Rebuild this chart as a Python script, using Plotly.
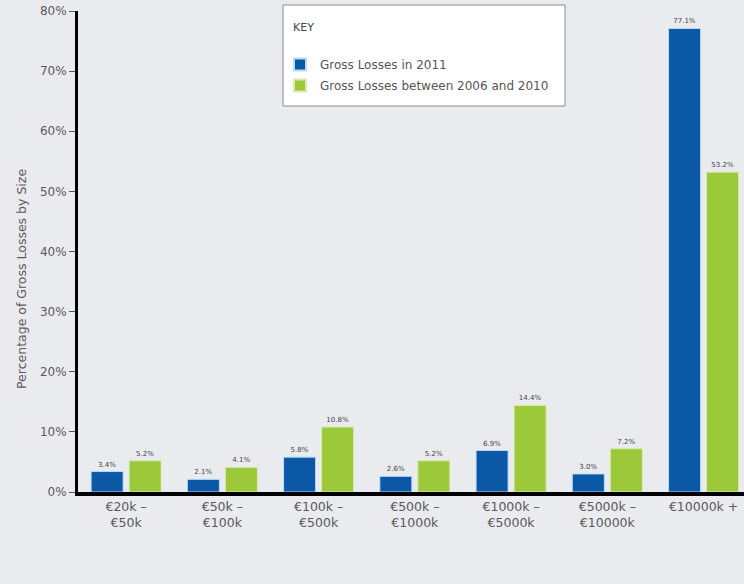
import plotly.graph_objects as go

# Loss-size bands and the share of gross losses falling in each
categories = ["€20k –<br>€50k", "€50k –<br>€100k", "€100k –<br>€500k", "€500k –<br>€1000k",
              "€1000k –<br>€5000k", "€5000k –<br>€10000k", "€10000k +"]
losses_2011 = [3.4, 2.1, 5.8, 2.6, 6.9, 3.0, 77.1]
losses_2006_2010 = [5.2, 4.1, 10.8, 5.2, 14.4, 7.2, 53.2]
y_ticks = [0, 10, 20, 30, 40, 50, 60, 70, 80]
y_tick_labels = [f"{v}%" for v in y_ticks]

BLUE = "#0b58a6"
GREEN = "#9cc93a"
BG = "#e9ebee"
TXT = "#5a5a5a"
FONT = "DejaVu Sans, Arial, sans-serif"

L, T, B = 78, 11, 92
PW, PH = 744 - L, 584 - T - B


def px_x(x):
    return (x - L) / PW


def px_y(y):
    return (584 - B - y) / PH


fig = go.Figure()
fig.add_trace(go.Bar(
    x=categories, y=losses_2011, name="Gross Losses in 2011", legendgroup="a",
    marker=dict(color=BLUE, line=dict(color="#b7dcf2", width=1)),
    text=[f"{v:.1f}%" for v in losses_2011], textposition="outside",
    textfont=dict(size=7, color="#444"), cliponaxis=False,
))
fig.add_trace(go.Bar(
    x=categories, y=losses_2006_2010, name="Gross Losses between 2006 and 2010", legendgroup="b",
    marker=dict(color=GREEN, line=dict(color="#dbe9b0", width=1)),
    text=[f"{v:.1f}%" for v in losses_2006_2010], textposition="outside",
    textfont=dict(size=7, color="#444"), cliponaxis=False,
))

# White key box behind the legend
fig.add_shape(type="rect", xref="paper", yref="paper",
              x0=px_x(283), x1=px_x(565), y0=px_y(106), y1=px_y(5),
              fillcolor="white", line=dict(color="#8a8a8a", width=1), layer="below")
fig.add_annotation(text="KEY", xref="paper", yref="paper", x=px_x(291), y=px_y(27),
                   xanchor="left", yanchor="middle", showarrow=False,
                   font=dict(family=FONT, size=11, color="#444"))

# Y-axis title
fig.add_annotation(text="Percentage of Gross Losses by Size", xref="paper", yref="paper",
                   x=px_x(21), y=px_y(279), xanchor="center", yanchor="middle",
                   textangle=-90, showarrow=False,
                   font=dict(family=FONT, size=12.5, color=TXT))

fig.update_layout(
    width=744, height=584,
    margin=dict(l=L, r=0, t=T, b=B),
    paper_bgcolor=BG, plot_bgcolor=BG,
    barmode="group", bargap=0.21, bargroupgap=0.158,
    font=dict(family=FONT, size=12, color=TXT),
    showlegend=True,
    legend=dict(
        x=px_x(280), xanchor="left",
        y=px_y(50), yanchor="top",
        bgcolor="rgba(0,0,0,0)", borderwidth=0,
        font=dict(family=FONT, size=12, color="#555"),
        tracegroupgap=2, itemsizing="constant", itemwidth=30,
    ),
    xaxis=dict(
        range=[-0.5, 6.42], showgrid=False, zeroline=False,
        showline=True, linecolor="black", linewidth=4,
        ticks="", tickfont=dict(family=FONT, size=12.5, color=TXT),
    ),
    yaxis=dict(
        range=[0, 80], tickmode="array", tickvals=y_ticks, ticktext=y_tick_labels,
        showgrid=False, zeroline=False,
        showline=True, linecolor="black", linewidth=3,
        ticks="outside", ticklen=6, tickcolor="#555", tickwidth=1,
        tickfont=dict(family=FONT, size=12, color=TXT),
    ),
)

fig.write_html("out.html")
